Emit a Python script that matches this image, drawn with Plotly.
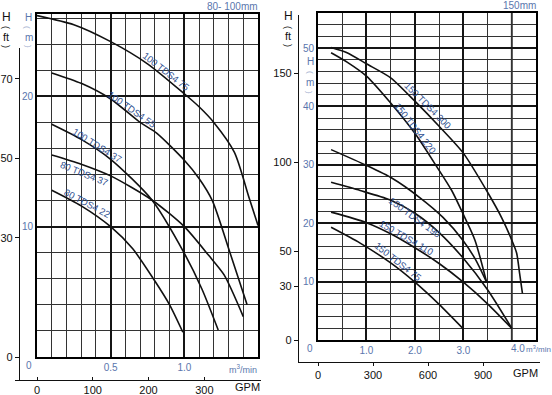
import plotly.graph_objects as go

W, HT = 552, 395
def pxx(x): return x / W
def pxy(y): return (HT - y) / HT

FONT = "Liberation Sans, Arial, sans-serif"
BLUE = "#5a76ad"
LBLUE = "#2f4f8f"

# ---------------- Left panel (80-100mm): Q [m3/min], H [m] ----------------
q_100_75 = [0, 0.25, 0.5, 0.75, 1.0, 1.1, 1.2, 1.34, 1.44, 1.5]
h_100_75 = [26.2, 25.5, 24.2, 22.5, 20.2, 19.2, 18.0, 15.7, 12.2, 10.1]
q_100_55 = [0.1, 0.3, 0.5, 0.7, 0.81, 1.0, 1.1, 1.19, 1.31, 1.426]
h_100_55 = [21.8, 21.0, 19.8, 18.0, 17.2, 15.1, 13.7, 12.0, 8.0, 4.0]
q_100_37 = [0.1, 0.3, 0.5, 0.78, 1.0, 1.12, 1.23]
h_100_37 = [17.86, 16.7, 15.17, 12.05, 7.96, 5.2, 2.07]
q_80_37 = [0.1, 0.3, 0.5, 0.78, 1.0, 1.165, 1.27, 1.40]
h_80_37 = [15.5, 14.8, 13.9, 12.05, 10.0, 7.8, 6.3, 3.1]
q_80_22 = [0.1, 0.3, 0.5, 0.65, 0.79, 0.9, 0.99]
h_80_22 = [12.8, 11.6, 10.0, 8.3, 6.0, 4.0, 1.9]

left_names = ["100 TDS4 75", "100 TDS4 55", "100 TDS4 37", "80 TDS4 37", "80 TDS4 22"]
left_q = [q_100_75, q_100_55, q_100_37, q_80_37, q_80_22]
left_h = [h_100_75, h_100_55, h_100_37, h_80_37, h_80_22]
left_lab_q = [0.877, 0.646, 0.41, 0.32, 0.344]
left_lab_h = [21.9, 19.0, 16.2, 14.1, 11.8]
left_lab_ang = [38, 35, 32, 22, 28]

# ---------------- Right panel (150mm) ----------------
q_150_300 = [0.27, 0.6, 1.0, 1.5, 2.0, 2.5, 3.0, 3.5, 3.8, 4.0, 4.1, 4.16, 4.22]
h_150_300 = [50.1, 49.2, 47.3, 44.9, 40.9, 36.6, 32.0, 25.3, 20.8, 17.1, 14.9, 11.5, 8.0]
q_150_220 = [0.27, 0.6, 1.0, 1.5, 2.0, 2.45, 2.76, 3.0, 3.24, 3.48]
h_150_220 = [49.2, 47.6, 45.2, 40.6, 35.4, 29.7, 25.6, 21.5, 17.1, 9.9]
q_150_150 = [0.27, 1.0, 1.53, 2.1, 2.58, 2.99, 3.25, 3.48]
h_150_150 = [32.6, 29.9, 27.7, 24.4, 21.0, 17.1, 13.8, 9.9]
q_150_190 = [0.27, 0.87, 1.48, 2.0, 2.5, 3.0, 3.5, 4.0]
h_150_190 = [27.0, 25.6, 24.0, 21.7, 18.4, 14.0, 8.6, 2.0]
q_150_110 = [0.27, 1.0, 1.5, 2.0, 2.5, 3.0, 3.5, 4.0]
h_150_110 = [21.9, 20.1, 18.2, 15.8, 13.1, 9.9, 6.2, 2.0]
q_150_75 = [0.27, 0.87, 1.5, 2.0, 2.5, 3.0]
h_150_75 = [19.3, 16.6, 13.2, 9.9, 6.1, 1.9]

right_q = [q_150_300, q_150_220, q_150_150, q_150_190, q_150_110, q_150_75]
right_h = [h_150_300, h_150_220, h_150_150, h_150_190, h_150_110, h_150_75]
right_names = ["150 TDS4 300", "150 TDS4 220", "150 TDS4 190", "150 TDS4 110", "150 TDS4 75"]
right_lab_q = [2.27, 2.02, 2.0, 1.82, 1.65]
right_lab_h = [40.1, 36.3, 20.9, 17.5, 13.4]
right_lab_ang = [45, 52, 36, 30, 38]

# tick labels
left_m_ticks = [10, 20]
left_q_ticks = [0.5, 1.0]
left_q_text = ["0.5", "1.0"]
left_ft_ticks = [0, 30, 50, 70]
left_gpm_ticks = [0, 100, 200, 300]
right_m_ticks = [10, 20, 30, 40, 50]
right_q_ticks = [1, 2, 3]
right_q_text = ["1.0", "2.0", "3.0"]
right_ft_ticks = [0, 30, 50, 100, 150]
right_gpm_ticks = [0, 300, 600, 900]

M3_TO_GPM = 264.17
M_TO_FT = 3.2808

fig = go.Figure()
for q, h in zip(left_q, left_h):
    fig.add_trace(go.Scatter(x=q, y=h, mode="lines", xaxis="x", yaxis="y",
                             line=dict(color="#111", width=1.6, shape="spline", smoothing=0.7),
                             hoverinfo="skip", showlegend=False))
for q, h in zip(right_q, right_h):
    fig.add_trace(go.Scatter(x=q, y=h, mode="lines", xaxis="x2", yaxis="y2",
                             line=dict(color="#111", width=1.6, shape="spline", smoothing=0.7),
                             hoverinfo="skip", showlegend=False))
# invisible anchors for the secondary (ft / GPM) axes
fig.add_trace(go.Scatter(x=[0], y=[0], xaxis="x3", yaxis="y3", mode="markers",
                         marker=dict(opacity=0), hoverinfo="skip", showlegend=False))
fig.add_trace(go.Scatter(x=[0], y=[0], xaxis="x4", yaxis="y4", mode="markers",
                         marker=dict(opacity=0), hoverinfo="skip", showlegend=False))

# pixel geometry of the panels
L_x0, L_x1, L_y0, L_y1 = 37, 258, 357, 14
R_x0, R_x1, R_y0, R_y1 = 318, 536, 340, 13
L_qmax, L_hmax = 1.5, 26.32
R_qmax, R_hmax = 4.5, 56
L_ppq = (L_x1 - L_x0) / L_qmax           # px per m3/min
L_pph = (L_y0 - L_y1) / L_hmax           # px per m
R_ppq = (R_x1 - R_x0) / R_qmax
R_pph = (R_y0 - R_y1) / R_hmax

grid_major = dict(showgrid=True, gridcolor="#151515", gridwidth=1.8)
def minor(dt):
    return dict(tickmode="linear", tick0=0, dtick=dt, showgrid=True,
                gridcolor="#333", gridwidth=0.9, ticks="")
frame = dict(showline=True, mirror=True, linecolor="black", linewidth=2, zeroline=False, ticks="")

# ft axes / GPM axes geometry
Lft_pos, Lft_top, Lft_bot = 19, 48, 380
L_ppft = L_pph / M_TO_FT
Lgpm_y, Lgpm_x0, Lgpm_x1 = 380, 15, 261
L_ppg = L_ppq / M3_TO_GPM
Rft_pos, Rft_top, Rft_bot = 298, 15, 362
R_ppft = R_pph / M_TO_FT
Rgpm_y, Rgpm_x0, Rgpm_x1 = 362, 298, 540
R_ppg = R_ppq / M3_TO_GPM

tf_blue = dict(family=FONT, size=10, color=BLUE)
tf_black = dict(family=FONT, size=11, color="#111")

fig.update_layout(
    width=W, height=HT, autosize=False, margin=dict(l=0, r=0, t=0, b=0),
    paper_bgcolor="white", plot_bgcolor="rgba(0,0,0,0)", showlegend=False,
    font=dict(family=FONT),
    xaxis=dict(domain=[pxx(L_x0), pxx(L_x1)], range=[0, L_qmax], anchor="y",
               tickmode="array", tickvals=left_q_ticks, ticktext=left_q_text,
               tickfont=tf_blue, minor=minor(0.1), **grid_major, **frame),
    yaxis=dict(domain=[pxy(L_y0), pxy(L_y1)], range=[0, L_hmax], anchor="x",
               tickmode="array", tickvals=left_m_ticks, tickfont=tf_blue,
               minor=minor(2), **grid_major, **frame),
    xaxis2=dict(domain=[pxx(R_x0), pxx(R_x1)], range=[0, R_qmax], anchor="y2",
                tickmode="array", tickvals=right_q_ticks, ticktext=right_q_text,
                tickfont=tf_blue, minor=minor(0.5), **grid_major, **frame),
    yaxis2=dict(domain=[pxy(R_y0), pxy(R_y1)], range=[0, R_hmax], anchor="x2",
                tickmode="array", tickvals=right_m_ticks, tickfont=tf_blue,
                minor=minor(2), **grid_major, **frame),
    yaxis3=dict(domain=[pxy(Lft_bot), pxy(Lft_top)],
                range=[(L_y0 - Lft_bot) / L_ppft, (L_y0 - Lft_top) / L_ppft],
                anchor="free", position=pxx(Lft_pos), side="left",
                showline=True, linecolor="#111", linewidth=1.3, ticks="outside",
                ticklen=4, tickcolor="#111", tickvals=left_ft_ticks, tickfont=tf_black,
                showgrid=False, zeroline=False),
    xaxis3=dict(domain=[pxx(Lgpm_x0), pxx(Lgpm_x1)],
                range=[(Lgpm_x0 - L_x0) / L_ppg, (Lgpm_x1 - L_x0) / L_ppg],
                anchor="free", position=pxy(Lgpm_y),
                showline=True, linecolor="#111", linewidth=1.3, ticks="inside",
                ticklen=3, tickcolor="#111", tickvals=left_gpm_ticks, tickfont=tf_black,
                showgrid=False, zeroline=False),
    yaxis4=dict(domain=[pxy(Rft_bot), pxy(Rft_top)],
                range=[(R_y0 - Rft_bot) / R_ppft, (R_y0 - Rft_top) / R_ppft],
                anchor="free", position=pxx(Rft_pos), side="left",
                showline=True, linecolor="#111", linewidth=1.3, ticks="outside",
                ticklen=4, tickcolor="#111", tickvals=right_ft_ticks, tickfont=tf_black,
                showgrid=False, zeroline=False),
    xaxis4=dict(domain=[pxx(Rgpm_x0), pxx(Rgpm_x1)],
                range=[(Rgpm_x0 - R_x0) / R_ppg, (Rgpm_x1 - R_x0) / R_ppg],
                anchor="free", position=pxy(Rgpm_y),
                showline=True, linecolor="#111", linewidth=1.3, ticks="outside",
                ticklen=3, tickcolor="#111", tickvals=right_gpm_ticks, tickfont=tf_black,
                showgrid=False, zeroline=False),
)

# extra major gridline at 4.0 m3/min on the right panel (kept inside the right plot area)
fig.add_shape(type="line", xref="x2", yref="y2 domain", x0=4.0, x1=4.0, y0=0, y1=1,
              line=dict(color="#151515", width=1.8), layer="below")

ann = []
# curve labels
for name, q, h, a in zip(left_names, left_lab_q, left_lab_h, left_lab_ang):
    ann.append(dict(x=q, y=h, xref="x", yref="y", text=name, textangle=a, showarrow=False,
                    font=dict(family=FONT, size=9.5, color=LBLUE)))
for name, q, h, a in zip(right_names, right_lab_q, right_lab_h, right_lab_ang):
    ann.append(dict(x=q, y=h, xref="x2", yref="y2", text=name, textangle=a, showarrow=False,
                    font=dict(family=FONT, size=9.5, color=LBLUE)))

def txt(x, y, s, size=10, color=BLUE, xanchor="center", angle=0):
    ann.append(dict(x=pxx(x), y=pxy(y), xref="paper", yref="paper", text=s, showarrow=False,
                    xanchor=xanchor, yanchor="middle", textangle=angle,
                    font=dict(family=FONT, size=size, color=color)))

ARC = "#9aaacc"
# left panel axis captions
txt(6, 17, "H", 12, "#111")
txt(6, 27, "(", 9, "#111", angle=90)
txt(6, 37, "ft", 11, "#111")
txt(6, 46, ")", 9, "#111", angle=90)
txt(28, 17, "H", 10)
txt(28, 27, "(", 8, ARC, angle=90)
txt(29, 37, "m", 10)
txt(28, 46, ")", 8, ARC, angle=90)
txt(232, 7, "80- 100mm", 10)
txt(29, 365, "0", 10)
txt(243, 369, "m<sup>3</sup>/min", 9)
txt(247, 387, "GPM", 11, "#111")
# right panel axis captions
txt(288, 16, "H", 12, "#111")
txt(288, 27, "(", 9, "#111", angle=90)
txt(288, 36, "ft", 11, "#111")
txt(288, 45, ")", 9, "#111", angle=90)
txt(310, 62, "H", 10)
txt(310, 72, "(", 8, ARC, angle=90)
txt(310, 82, "m", 10)
txt(310, 92, ")", 8, ARC, angle=90)
txt(519, 6, "150mm", 10)
txt(310, 348, "0", 10)
txt(518, 348, "4.0", 10)
txt(524, 349, "m<sup>3</sup>/min", 8, xanchor="left")
txt(525, 373, "GPM", 11, "#111")

fig.update_layout(annotations=ann)
fig.write_html("out.html", config={"displayModeBar": False},
               post_script="document.body.style.margin='0';document.body.style.overflow='hidden';")
